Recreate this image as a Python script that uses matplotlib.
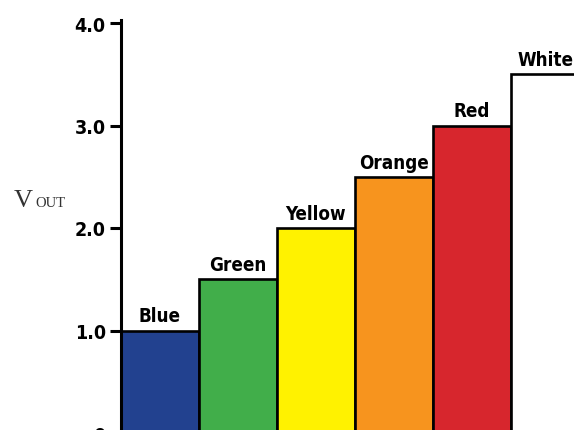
import matplotlib
matplotlib.use("Agg")
import matplotlib.pyplot as plt

categories = ["Blue", "Green", "Yellow", "Orange", "Red", "White"]
values = [1.0, 1.5, 2.0, 2.5, 3.0, 3.5]
colors = ["#22418F", "#41AE4A", "#FFF200", "#F7941E", "#D7262D", "#FFFFFF"]
yticks = [0, 1.0, 2.0, 3.0, 4.0]
ytick_labels = ["0", "1.0", "2.0", "3.0", "4.0"]

W, H = 574, 431
fig = plt.figure(figsize=(W / 100, H / 100), dpi=100)
left_px, right_px, top_px, bottom_px = 121, 589, 24, 434
ax = fig.add_axes([left_px / W, 1 - bottom_px / H,
                   (right_px - left_px) / W, (bottom_px - top_px) / H])

cond = dict(family=["DejaVu Sans"], fontstretch="condensed", fontweight="bold")
x = list(range(len(categories)))
ax.bar(x, values, width=1.0, align="edge", color=colors,
       edgecolor="black", linewidth=1.9, clip_on=False, zorder=2)
for i, (xi, v, c) in enumerate(zip(x, values, categories)):
    dx = -3 if i == len(categories) - 1 else 0
    ax.annotate(c, (xi + 0.5, v), xytext=(dx, 6.5), textcoords="offset points",
                ha="center", va="baseline", fontsize=13.5, color="black", **cond)

ax.set_xlim(0, len(categories))
ax.set_ylim(0, 4.0)
ax.set_yticks(yticks)
ax.set_yticklabels(ytick_labels, fontsize=14, **cond)
ax.set_xticks([])
for s in ["top", "right", "bottom"]:
    ax.spines[s].set_visible(False)
ax.spines["left"].set_linewidth(2.2)
ax.spines["left"].set_bounds(0, 4.03)
ax.tick_params(axis="y", direction="out", length=8, width=2.2, pad=3)

serif = ["Liberation Serif", "DejaVu Serif"]
fig.text(14 / W, 1 - 207 / H, "V", family=serif,
         fontsize=19, color="#333333", va="baseline", ha="left")
fig.text(35 / W, 1 - 207 / H, "OUT", family=serif,
         fontsize=10.5, color="#333333", va="baseline", ha="left")

fig.savefig("out.png", dpi=100)
